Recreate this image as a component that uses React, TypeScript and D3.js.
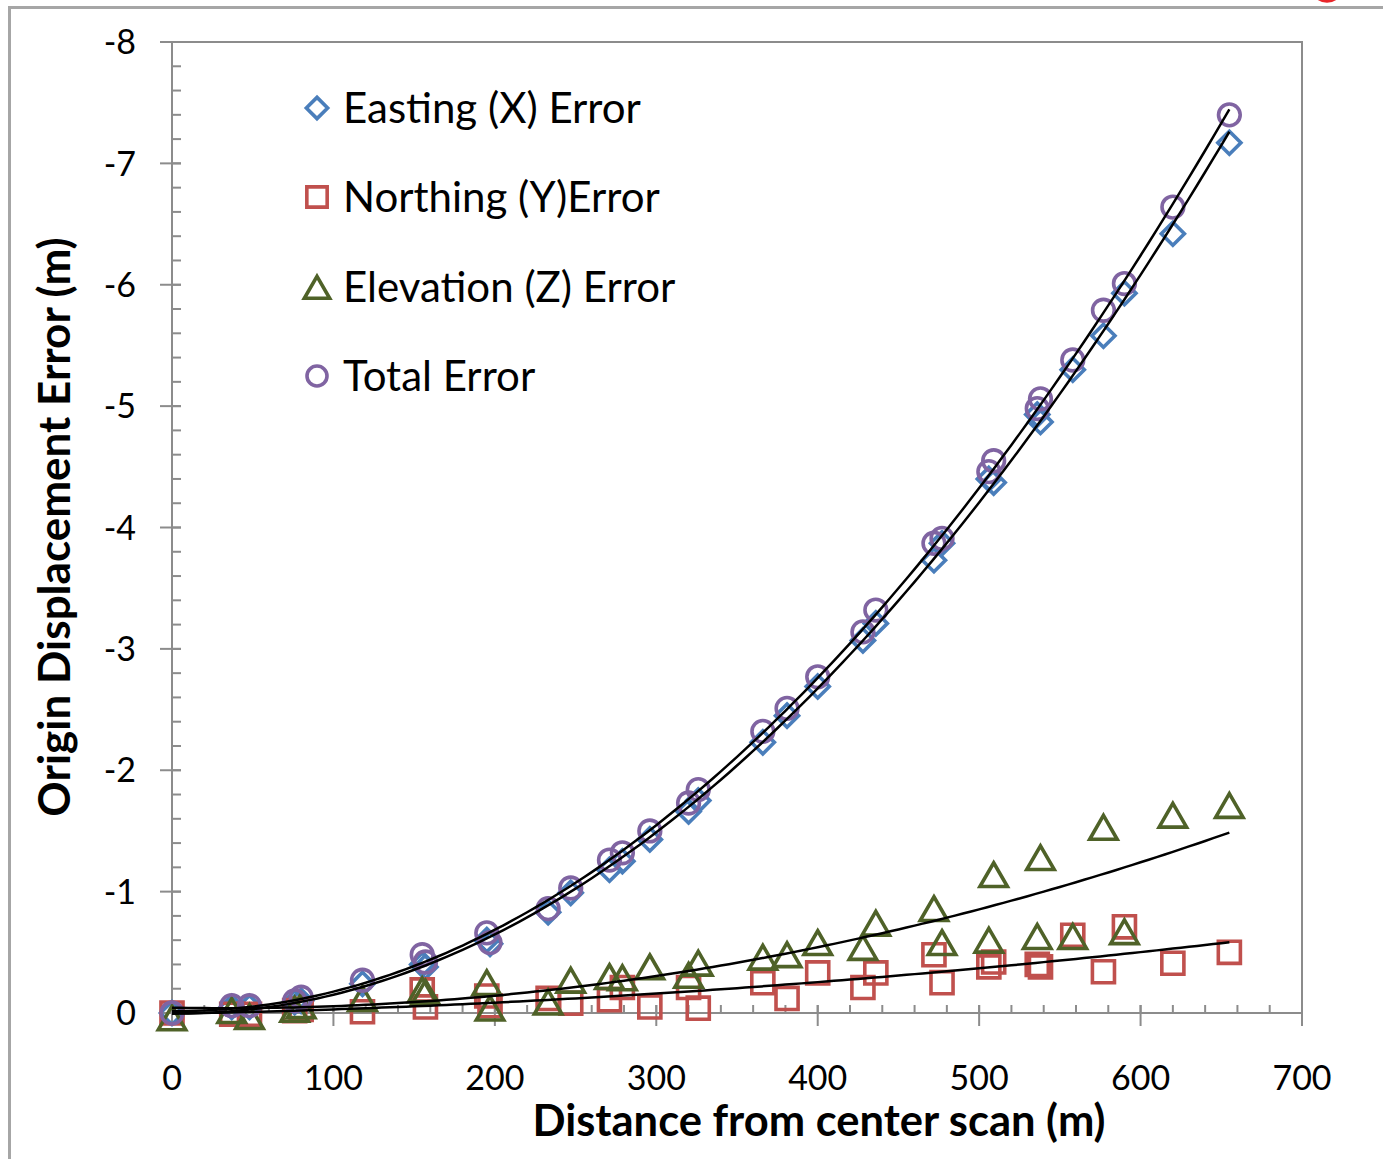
import React, { useRef, useEffect } from 'react'
import * as d3 from 'd3'

// distance from center scan (m), one entry per scan position
const distance = [0, 37, 48, 76, 80, 118, 155, 157, 195, 197, 233, 247, 271, 279, 296, 320, 326, 366, 381, 400, 428, 436, 472, 477, 506, 509, 536, 538, 558, 577, 590, 620, 655]

const easting = [0, -0.05, -0.05, -0.09, -0.1, -0.24, -0.4, -0.38, -0.6, -0.57, -0.83, -0.99, -1.18, -1.25, -1.43, -1.66, -1.75, -2.23, -2.45, -2.69, -3.07, -3.21, -3.73, -3.87, -4.4, -4.37, -4.93, -4.87, -5.3, -5.58, -5.93, -6.42, -7.17]
const northing = [0, 0.01, 0.01, -0.02, -0.03, -0.01, -0.19, -0.05, -0.14, -0.06, -0.12, -0.08, -0.11, -0.21, -0.05, -0.21, -0.04, -0.25, -0.12, -0.33, -0.21, -0.33, -0.48, -0.25, -0.38, -0.42, -0.4, -0.38, -0.64, -0.34, -0.71, -0.41, -0.5]
const elevation = [0.04, -0.02, 0.03, -0.03, -0.06, -0.12, -0.19, -0.17, -0.25, -0.04, -0.09, -0.27, -0.3, -0.29, -0.38, -0.31, -0.41, -0.46, -0.48, -0.58, -0.54, -0.74, -0.86, -0.58, -0.6, -1.14, -0.63, -1.28, -0.63, -1.53, -0.67, -1.63, -1.71]
const total = [0, -0.06, -0.06, -0.1, -0.13, -0.27, -0.48, -0.42, -0.66, -0.58, -0.86, -1.03, -1.26, -1.32, -1.5, -1.73, -1.84, -2.32, -2.51, -2.77, -3.14, -3.32, -3.87, -3.91, -4.46, -4.55, -4.98, -5.06, -5.38, -5.79, -6.01, -6.64, -7.4]

const seriesNames = ['Easting (X) Error', 'Northing (Y)Error', 'Elevation (Z) Error', 'Total Error']
const xTicks = [0, 100, 200, 300, 400, 500, 600, 700]
const yTicks = [0, -1, -2, -3, -4, -5, -6, -7, -8]

// least squares quadratic, like an excel polynomial trendline
function polyFit(xs: number[], ys: number[]) {
  const n = xs.length
  const S = [0, 0, 0, 0, 0]
  const T = [0, 0, 0]
  for (let i = 0; i < n; i++) {
    for (let k = 0; k < 5; k++) S[k] += Math.pow(xs[i], k)
    for (let k = 0; k < 3; k++) T[k] += ys[i] * Math.pow(xs[i], k)
  }
  const A = [
    [S[0], S[1], S[2], T[0]],
    [S[1], S[2], S[3], T[1]],
    [S[2], S[3], S[4], T[2]],
  ]
  for (let c = 0; c < 3; c++) {
    for (let r = c + 1; r < 3; r++) {
      const f = A[r][c] / A[c][c]
      for (let k = c; k < 4; k++) A[r][k] -= f * A[c][k]
    }
  }
  const coef = [0, 0, 0]
  for (let r = 2; r >= 0; r--) {
    let s = A[r][3]
    for (let k = r + 1; k < 3; k++) s -= A[r][k] * coef[k]
    coef[r] = s / A[r][r]
  }
  return (x: number) => coef[0] + coef[1] * x + coef[2] * x * x
}

export default function App() {
  const svgRef = useRef<SVGSVGElement>(null)

  useEffect(() => {
    const svg = d3.select(svgRef.current)
    svg.selectAll('*').remove()

    const width = 1383, height = 1159
    const left = 172, right = 1302, top = 42, bottom = 1013
    const font = 'Lato, "Open Sans", sans-serif'
    const grey = '#8c8c8c'

    svg.attr('width', width).attr('height', height)

    // outer chart frame
    svg.append('rect').attr('x', 9.5).attr('y', 7.5).attr('width', 1400).attr('height', 1200)
      .attr('fill', 'white').attr('stroke', '#a6a6a6').attr('stroke-width', 3)
    svg.append('ellipse').attr('cx', 1327).attr('cy', -14).attr('rx', 15).attr('ry', 15)
      .attr('fill', 'none').attr('stroke', '#e8262a').attr('stroke-width', 3.5)

    const x = d3.scaleLinear().domain([0, 700]).range([left, right])
    const y = d3.scaleLinear().domain([0, -8]).range([bottom, top])

    // plot border top/right
    svg.append('path')
      .attr('d', `M${left},${top}H${right}V${bottom}`)
      .attr('fill', 'none').attr('stroke', grey).attr('stroke-width', 2)

    // y axis
    const yMinor = d3.range(0, -8.0001, -0.2)
    svg.append('g').selectAll('line').data(yMinor).join('line')
      .attr('x1', left).attr('x2', left + 9)
      .attr('y1', d => y(d)).attr('y2', d => y(d))
      .attr('stroke', grey).attr('stroke-width', 2)
    svg.append('g').selectAll('line').data(yTicks).join('line')
      .attr('x1', left - 12).attr('x2', left + 9)
      .attr('y1', d => y(d)).attr('y2', d => y(d))
      .attr('stroke', grey).attr('stroke-width', 2)
    svg.append('line').attr('x1', left).attr('x2', left).attr('y1', top).attr('y2', bottom)
      .attr('stroke', grey).attr('stroke-width', 2)
    svg.append('g').selectAll('text').data(yTicks).join('text')
      .attr('x', 136).attr('y', d => y(d)).attr('dy', '0.36em')
      .attr('text-anchor', 'end').attr('font-family', font).attr('font-size', 34)
      .attr('fill', '#000').text(d => d3.format('d')(d).replace('−', '-'))

    // x axis
    const xMinor = d3.range(0, 700.001, 20)
    svg.append('g').selectAll('line').data(xMinor).join('line')
      .attr('x1', d => x(d)).attr('x2', d => x(d))
      .attr('y1', bottom - 8).attr('y2', bottom)
      .attr('stroke', grey).attr('stroke-width', 2)
    svg.append('g').selectAll('line').data(xTicks).join('line')
      .attr('x1', d => x(d)).attr('x2', d => x(d))
      .attr('y1', bottom - 8).attr('y2', bottom + 13)
      .attr('stroke', grey).attr('stroke-width', 2)
    svg.append('line').attr('x1', left).attr('x2', right).attr('y1', bottom).attr('y2', bottom)
      .attr('stroke', grey).attr('stroke-width', 2)
    svg.append('g').selectAll('text').data(xTicks).join('text')
      .attr('x', d => x(d)).attr('y', 1090)
      .attr('text-anchor', 'middle').attr('font-family', font).attr('font-size', 34)
      .attr('fill', '#000').text(d => String(d))

    // axis titles
    svg.append('text').attr('x', 819).attr('y', 1136)
      .attr('text-anchor', 'middle').attr('font-family', font).attr('font-weight', 'bold')
      .attr('font-size', 43.5).text('Distance from center scan (m)')
    svg.append('text').attr('transform', 'translate(70,527) rotate(-90)')
      .attr('text-anchor', 'middle').attr('font-family', font).attr('font-weight', 'bold')
      .attr('font-size', 44).text('Origin Displacement Error (m)')

    // markers
    const shapes = [
      { values: easting, color: '#4a7ebb', sym: d3.symbolDiamond2, size: 340, dy: 0 },
      { values: northing, color: '#c0504d', sym: d3.symbolSquare2, size: 620, dy: 0 },
      { values: elevation, color: '#4f6228', sym: d3.symbolTriangle2, size: 540, dy: 4 },
      { values: total, color: '#8064a2', sym: d3.symbolCircle, size: 370, dy: 0 },
    ]

    const plot = svg.append('g')
    shapes.forEach(s => {
      const path = d3.symbol().type(s.sym).size(s.size)()
      plot.append('g').selectAll('path').data(s.values).join('path')
        .attr('d', path)
        .attr('transform', (d, i) => `translate(${x(distance[i])},${y(d) + s.dy})`)
        .attr('fill', 'none').attr('stroke', s.color).attr('stroke-width', 3.6)
    })

    // trendlines
    const xMax = d3.max(distance) as number
    const xs = d3.range(0, xMax + 0.001, 5)
    const line = d3.line<number[]>().x(d => x(d[0])).y(d => y(d[1]))
    ;[easting, northing, elevation, total].forEach(vals => {
      const f = polyFit(distance, vals)
      plot.append('path').datum(xs.map(v => [v, f(v)]))
        .attr('d', line).attr('fill', 'none').attr('stroke', '#000').attr('stroke-width', 2.5)
    })

    // legend
    const legendRows = [108, 197, 287, 376]
    const legend = svg.append('g')
    shapes.forEach((s, i) => {
      legend.append('path').attr('d', d3.symbol().type(s.sym).size(s.size * 0.85)())
        .attr('transform', `translate(317,${legendRows[i] + s.dy})`)
        .attr('fill', 'none').attr('stroke', s.color).attr('stroke-width', 3.6)
      legend.append('text').attr('x', 343).attr('y', legendRows[i] + 15)
        .attr('font-family', font).attr('font-size', 42).attr('fill', '#000')
        .text(seriesNames[i])
    })
  }, [])

  return <svg ref={svgRef} style={{ display: 'block', position: 'absolute', left: 0, top: 0 }} />
}
